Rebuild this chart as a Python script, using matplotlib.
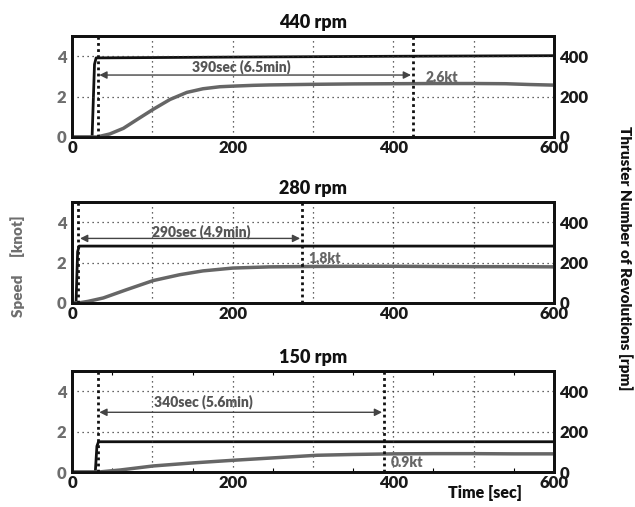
import matplotlib
matplotlib.use("Agg")
import matplotlib.pyplot as plt
from matplotlib.ticker import FixedLocator

plt.rcParams['font.family'] = ['Lato', 'DejaVu Sans']
plt.rcParams['font.weight'] = 'heavy'

titles = ["440 rpm", "280 rpm", "150 rpm"]

# rpm traces (time, rpm)
rpm_t = [[0, 25, 28, 30, 200, 400, 600],
         [0, 5, 7, 9, 600],
         [0, 29, 31, 33, 600]]
rpm_v = [[0, 0, 360, 392, 396, 400, 403],
         [0, 0, 255, 282, 282],
         [0, 0, 128, 150, 150]]

# speed traces (time, knot)
spd_t = [[0, 31, 47, 64, 80, 101, 122, 143, 163, 184, 200, 226, 246, 300, 350, 400, 450, 500, 540, 570, 600],
         [0, 8, 20, 39, 68, 101, 134, 163, 200, 246, 300, 350, 400, 450, 500, 550, 600],
         [0, 33, 60, 101, 150, 200, 246, 305, 350, 400, 450, 500, 550, 600]]
spd_v = [[0, 0, 0.15, 0.43, 0.84, 1.37, 1.86, 2.21, 2.39, 2.49, 2.52, 2.56, 2.58, 2.61, 2.63, 2.64, 2.65, 2.65, 2.64, 2.6, 2.57],
         [0, 0, 0.08, 0.25, 0.66, 1.11, 1.40, 1.59, 1.73, 1.79, 1.81, 1.82, 1.82, 1.81, 1.8, 1.8, 1.79],
         [0, 0, 0.1, 0.3, 0.45, 0.58, 0.69, 0.83, 0.87, 0.9, 0.91, 0.91, 0.9, 0.9]]

# arrow annotations
arr_start = [32, 8, 32]
arr_end = [424, 286, 388]
arr_y = [3.07, 3.2, 2.96]
arr_text = ["390sec (6.5min)", "290sec (4.9min)", "340sec (5.6min)"]
arr_text_x = [211, 161, 163]
arr_text_y = [3.5, 3.55, 3.5]
kt_text = ["2.6kt", "1.8kt", "0.9kt"]
kt_x = [460, 314, 417]
kt_y = [2.97, 2.2, 0.45]

fig = plt.figure(figsize=(6.35, 5.07), dpi=100)
bottoms = [0.7298, 0.4024, 0.069]
left, width, height = 0.1134, 0.759, 0.199

for i in range(3):
    ax = fig.add_axes([left, bottoms[i], width, height])
    ax2 = ax.twinx()
    ax.set_xlim(0, 600)
    ax.set_ylim(0, 5)
    ax2.set_ylim(0, 500)
    ax.set_zorder(ax2.get_zorder() + 1)
    ax.patch.set_visible(False)

    ax.xaxis.set_major_locator(FixedLocator([0, 200, 400, 600]))
    ax.xaxis.set_minor_locator(FixedLocator([100, 300, 500]))
    ax.yaxis.set_major_locator(FixedLocator([0, 2, 4]))
    ax2.yaxis.set_major_locator(FixedLocator([0, 200, 400]))
    ax.grid(True, which='both', axis='x', ls=(0, (1, 3)), color='#333', lw=0.9)
    ax.grid(True, which='major', axis='y', ls=(0, (1, 3)), color='#333', lw=0.9)
    ax.tick_params(axis='x', which='both', length=0, labelsize=12, labelcolor='#1a1a1a', pad=2)
    ax.tick_params(axis='y', which='both', length=0, labelsize=12, labelcolor='#6e6e6e', pad=4)
    ax2.tick_params(axis='y', length=0, labelsize=12, labelcolor='#1a1a1a', pad=4)
    if i == 2:
        ax.xaxis.set_minor_locator(FixedLocator([50, 150, 250, 350, 450, 550]))
        ax.grid(False, which='minor')
        ax.tick_params(axis='x', which='minor', length=3, direction='in', top=True, bottom=True, width=0.8)
        for xv in [100, 300, 500]:
            ax.axvline(xv, ls=(0, (1, 3)), color='#333', lw=0.9, zorder=0)
    for a in (ax, ax2):
        for s in a.spines.values():
            s.set_linewidth(2)
            s.set_color('#111')

    ax2.plot(rpm_t[i], rpm_v[i], color='#111', lw=2, solid_joinstyle='round')
    ax.plot(spd_t[i], spd_v[i], color='#666', lw=2.5, solid_capstyle='round',
            solid_joinstyle='round')

    ax.axvline(arr_start[i], ls=(0, (1, 1.2)), color='#111', lw=2)
    ax.axvline(arr_end[i], ls=(0, (1, 1.2)), color='#111', lw=2)
    ax.annotate('', xy=(arr_end[i] - 2, arr_y[i]), xytext=(arr_start[i] + 2, arr_y[i]),
                arrowprops=dict(arrowstyle='<|-|>', color='#444', lw=1, mutation_scale=11,
                                shrinkA=0, shrinkB=0))
    ax.text(arr_text_x[i], arr_text_y[i], arr_text[i], ha='center', va='center',
            fontsize=10, color='#555', fontweight='heavy')
    ax.text(kt_x[i], kt_y[i], kt_text[i], ha='center', va='center',
            fontsize=10, color='#666', fontweight='heavy')
    ax.set_title(titles[i], fontsize=13, fontweight='heavy', pad=6, color='#111')

fig.text(0.028, 0.475, "Speed     [knot]", rotation=90, ha='center', va='center',
         fontsize=11, color='#6e6e6e', fontweight='heavy')
fig.text(0.985, 0.49, "Thruster Number of Revolutions [rpm]", rotation=270, ha='center', va='center',
         fontsize=11, color='#111', fontweight='heavy')
fig.text(0.764, 0.028, "Time [sec]", ha='center', va='center', fontsize=11.5,
         color='#111', fontweight='heavy')

fig.savefig("out.png", dpi=100)
